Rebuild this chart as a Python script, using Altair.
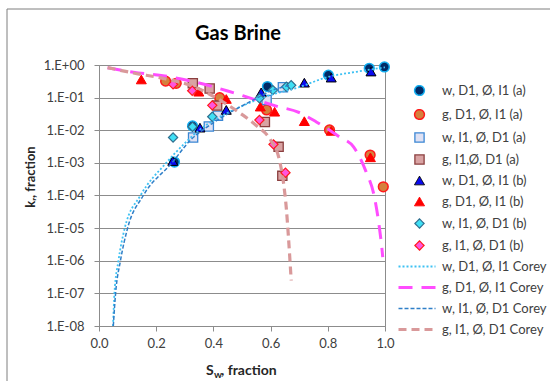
import altair as alt
import pandas as pd

# ---------------- data ----------------
SERIES = [
    "w, D1, Ø, I1 (a)", "g, D1, Ø, I1 (a)", "w, I1, Ø, D1 (a)", "g, I1,Ø, D1  (a)",
    "w, D1, Ø, I1 (b)", "g, D1, Ø, I1 (b)", "w, I1, Ø, D1 (b)", "g, I1, Ø, D1 (b)",
    "w, D1, Ø, I1 Corey", "g, D1, Ø, I1 Corey", "w, I1, Ø, D1 Corey", "g, I1, Ø, D1 Corey",
]

s1_x = [0.264, 0.327, 0.589, 0.802, 0.945, 0.998]
s1_y = [1.06e-3, 0.0135, 0.219, 0.49, 0.79, 0.87]
s2_x = [0.233, 0.27, 0.422, 0.586, 0.806, 0.948, 0.994]
s2_y = [0.32, 0.275, 0.10, 0.042, 0.0102, 0.00174, 1.85e-4]
s3_x = [0.329, 0.384, 0.416, 0.586, 0.643]
s3_y = [0.006, 0.013, 0.028, 0.085, 0.207]
s4_x = [0.328, 0.387, 0.413, 0.58, 0.628, 0.641]
s4_y = [0.275, 0.19, 0.057, 0.018, 0.0031, 4.0e-4]
s5_x = [0.258, 0.353, 0.445, 0.567, 0.718, 0.812, 0.951]
s5_y = [1.14e-3, 0.012, 0.042, 0.145, 0.287, 0.41, 0.63]
s6_x = [0.148, 0.349, 0.445, 0.564, 0.614, 0.718, 0.812, 0.949]
s6_y = [0.36, 0.152, 0.091, 0.053, 0.037, 0.019, 0.0096, 0.00148]
s7_x = [0.259, 0.327, 0.396, 0.561, 0.608, 0.655, 0.672]
s7_y = [0.006, 0.0128, 0.026, 0.095, 0.17, 0.216, 0.24]
s8_x = [0.259, 0.326, 0.396, 0.561, 0.61, 0.652]
s8_y = [0.256, 0.163, 0.058, 0.0206, 0.0037, 5.0e-4]

c1_x = [0.049, 0.054, 0.068, 0.09, 0.145, 0.235, 0.30, 0.35, 0.42, 0.50, 0.60, 0.70, 0.80, 0.90, 1.0]
c1_y = [1e-8, 1e-7, 1e-6, 1e-5, 1e-4, 1e-3, 4e-3, 0.01, 0.025, 0.055, 0.12, 0.21, 0.43, 0.62, 0.85]
c2_x = [0.03, 0.12, 0.23, 0.35, 0.45, 0.54, 0.62, 0.70, 0.76, 0.84, 0.89, 0.934, 0.963, 0.98, 0.99, 0.992]
c2_y = [0.83, 0.6, 0.46, 0.28, 0.16, 0.09, 0.055, 0.035, 0.018, 0.0063, 0.0031, 5.3e-4, 9e-5, 1.1e-5, 2e-6, 1.3e-6]
c3_x = [0.05, 0.058, 0.075, 0.10, 0.155, 0.255, 0.32, 0.38, 0.42, 0.49, 0.56, 0.60, 0.65, 0.67]
c3_y = [1e-8, 1e-7, 1e-6, 1e-5, 1e-4, 1e-3, 0.005, 0.013, 0.022, 0.05, 0.105, 0.16, 0.22, 0.245]
c4_x = [0.03, 0.12, 0.23, 0.33, 0.40, 0.45, 0.49, 0.55, 0.60, 0.63, 0.645, 0.655, 0.662, 0.672]
c4_y = [0.83, 0.57, 0.38, 0.22, 0.11, 0.06, 0.035, 0.014, 0.005, 0.0013, 2.5e-4, 4e-5, 6e-6, 2.5e-7]

X_TICKS = [0.0, 0.2, 0.4, 0.6, 0.8, 1.0]
Y_TICKS = [1e-8, 1e-7, 1e-6, 1e-5, 1e-4, 1e-3, 1e-2, 1e-1, 1.0]

# ---------------- styles ----------------
LINE_PATH = "M-5.25,0L4,0"
FILLS = ["#002a66", "#d5803c", "#dfe1f3", "#d9a3a3", "#0a0af0", "#ff0000", "#3fe0f5", "#ff55dd",
         "transparent", "transparent", "transparent", "transparent"]
STROKES = ["#12aef0", "#ff1a1a", "#3a86d4", "#8b3f3f", "#000000", "#ff0000", "#2f6f8f", "#ff1a1a",
           "#3ec1f3", "#ff4dff", "#2f7fc8", "#d9999a"]
SHAPES = ["circle", "circle", "square", "square", "triangle-up", "triangle-up", "diamond", "diamond",
          LINE_PATH, LINE_PATH, LINE_PATH, LINE_PATH]
SIZES = [95, 95, 85, 85, 100, 100, 85, 85, 64, 64, 64, 64]
WIDTHS = [1.5, 1.5, 1.3, 1.3, 1.0, 1.0, 1.2, 1.2, 1.8, 3.0, 1.5, 3.2]
DASHES = [[1, 0]] * 8 + [[2, 2], [14, 9], [4, 2], [8, 5]]

point_sets = [(s1_x, s1_y), (s2_x, s2_y), (s3_x, s3_y), (s4_x, s4_y),
              (s5_x, s5_y), (s6_x, s6_y), (s7_x, s7_y), (s8_x, s8_y)]
line_sets = [(c1_x, c1_y), (c2_x, c2_y), (c3_x, c3_y), (c4_x, c4_y)]

prow = []
for i, (xs, ys) in enumerate(point_sets):
    for j, (a, b) in enumerate(zip(xs, ys)):
        prow.append({"series": SERIES[i], "sw": a, "kr": b, "idx": j})
lrow = []
for i, (xs, ys) in enumerate(line_sets):
    for j, (a, b) in enumerate(zip(xs, ys)):
        lrow.append({"series": SERIES[8 + i], "sw": a, "kr": b, "idx": j})
pts = pd.DataFrame(prow)
lines = pd.DataFrame(lrow)

FONT = "Lato"
GRID = "#8c8c8c"

LEG = alt.Legend(orient="none", legendX=314, legendY=19, labelFont=FONT, labelFontSize=13,
                 labelColor="#404040", rowPadding=7, labelOffset=16, padding=0, symbolLimit=0)


def sc(rng, **kw):
    return alt.Scale(domain=SERIES, range=rng, **kw)


xenc = alt.X("sw:Q", title=None,
             scale=alt.Scale(domain=[0, 1], nice=False, zero=False, padding=0),
             axis=alt.Axis(values=X_TICKS, format=".1f", grid=False, tickSize=5, labelFlush=False,
                           tickColor=GRID, domainColor=GRID, labelFont=FONT, labelFontSize=13,
                           labelColor="#404040", labelPadding=6))
label_expr = ("'1.E' + (datum.value >= 1 ? '+' : '-') + "
              "(abs(round(log(datum.value)/LN10)) < 10 ? '0' : '') + abs(round(log(datum.value)/LN10))")
yenc = alt.Y("kr:Q", title=None,
             scale=alt.Scale(type="log", domain=[1e-8, 1], nice=False, padding=0),
             axis=alt.Axis(values=Y_TICKS, labelExpr=label_expr, grid=True, gridColor=GRID,
                           gridOpacity=1, tickSize=5, tickColor=GRID, domainColor=GRID, labelFlush=False,
                           labelFont=FONT, labelFontSize=13, labelColor="#404040", labelPadding=10))

fill = alt.Fill("series:N", scale=sc(FILLS), legend=LEG, title=None)
stroke = alt.Stroke("series:N", scale=sc(STROKES), legend=LEG, title=None)
shape = alt.Shape("series:N", scale=sc(SHAPES), legend=LEG, title=None)
size = alt.Size("series:N", scale=sc(SIZES, type="ordinal"), legend=LEG, title=None)
swidth = alt.StrokeWidth("series:N", scale=sc(WIDTHS, type="ordinal"), legend=LEG, title=None)
sdash = alt.StrokeDash("series:N", scale=sc(DASHES), legend=LEG, title=None)

point_layer = alt.Chart(pts).mark_point(filled=True, opacity=1).encode(
    x=xenc, y=yenc, fill=fill, stroke=stroke, shape=shape, size=size, strokeWidth=swidth
)
line_layer = alt.Chart(lines).mark_line(interpolate="monotone").encode(
    x=xenc, y=yenc, stroke=stroke, strokeDash=sdash, strokeWidth=swidth, order=alt.Order("idx:Q")
)

one = pd.DataFrame({"a": [0]})
frame = alt.Chart(one).mark_rect(fill="transparent", stroke="#7f7f7f", strokeWidth=1).encode(
    x=alt.value(-92), x2=alt.value(470), y=alt.value(-56), y2=alt.value(330)
)
title = alt.Chart(one).mark_text(text="Gas Brine", font=FONT, fontSize=20, fontWeight="bold",
                                 color="#000000", align="center", baseline="alphabetic").encode(
    x=alt.value(139), y=alt.value(-25))
ytitle = alt.Chart(one).mark_text(text="kᵣ, fraction", font=FONT, fontSize=13, fontWeight="bold",
                                  color="#262626", angle=270, align="center", baseline="middle").encode(
    x=alt.value(-68), y=alt.value(112))
xt1 = alt.Chart(one).mark_text(text="S", font=FONT, fontSize=14, fontWeight="bold",
                               color="#262626", align="left", baseline="alphabetic").encode(
    x=alt.value(107), y=alt.value(310))
xt2 = alt.Chart(one).mark_text(text="w", font=FONT, fontSize=10, fontWeight="bold",
                               color="#262626", align="left", baseline="alphabetic").encode(
    x=alt.value(115), y=alt.value(313))
xt3 = alt.Chart(one).mark_text(text=", fraction", font=FONT, fontSize=14, fontWeight="bold",
                               color="#262626", align="left", baseline="alphabetic").encode(
    x=alt.value(122), y=alt.value(310))

chart = alt.layer(frame, point_layer, line_layer, title, ytitle, xt1, xt2, xt3).properties(
    width=286, height=261,
    autosize=alt.AutoSizeParams(type="none"),
    padding={"left": 99, "top": 65, "right": 165, "bottom": 55},
    background="white",
).configure_view(stroke=GRID, strokeWidth=1)

chart.save("out.html", embed_options={"renderer": "svg", "actions": False})
